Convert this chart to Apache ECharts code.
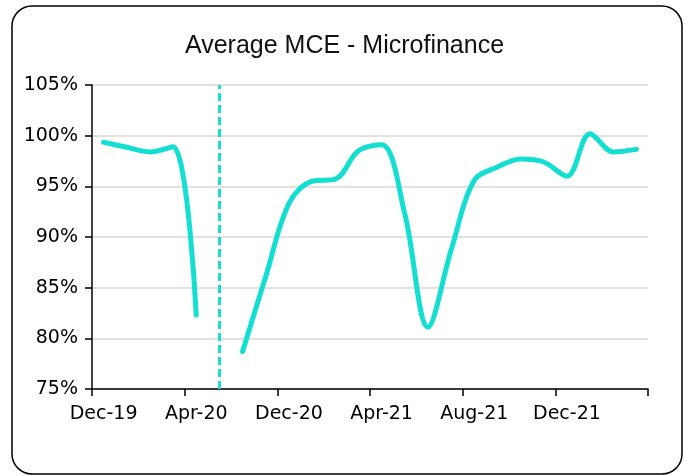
<!DOCTYPE html>
<html>
<head>
<meta charset="utf-8">
<script src="https://cdn.jsdelivr.net/npm/echarts@6/dist/echarts.min.js"></script>
<style>
  html, body { margin: 0; padding: 0; background: #fff; }
  #chart { width: 689px; height: 476px; }
</style>
</head>
<body>
<div id="chart"></div>
<script>
// months shown on the axis (Sep-20 is the break, no value)
let months = ['Dec-19', 'Jan-20', 'Feb-20', 'Mar-20', 'Apr-20', 'Sep-20',
  'Oct-20', 'Nov-20', 'Dec-20', 'Jan-21', 'Feb-21', 'Mar-21', 'Apr-21',
  'May-21', 'Jun-21', 'Jul-21', 'Aug-21', 'Sep-21', 'Oct-21', 'Nov-21',
  'Dec-21', 'Jan-22', 'Feb-22', 'Mar-22'];
// average MCE, in %
let mceValues = [99.35, 98.85, 98.4, 98.9, 82.3, null,
  78.7, 86.1, 93.3, 95.5, 95.7, 98.5, 99.1,
  92.3, 81.1, 88.7, 95.6, 96.9, 97.7, 97.4,
  96.0, 100.2, 98.4, 98.65];
let breakMonth = 'Sep-20';
let yTicks = { min: 75, max: 105, step: 5 };

let chartDom = document.getElementById('chart');
let myChart = echarts.init(chartDom, null, { renderer: 'canvas' });
let option;

let lineColor = '#12DFD2';
let labelFont = 'DejaVu Sans';

option = {
  backgroundColor: '#ffffff',
  animation: false,
  title: {
    text: 'Average MCE - Microfinance',
    left: 'center',
    top: 29,
    textStyle: {
      fontFamily: 'Liberation Sans',
      fontSize: 25,
      fontWeight: 'normal',
      color: '#111'
    }
  },
  graphic: [
    {
      type: 'rect',
      shape: { x: 12, y: 6, width: 670, height: 468, r: 20 },
      style: { fill: 'none', stroke: '#000', lineWidth: 1.5 },
      silent: true
    }
  ],
  grid: {
    left: 92,
    right: 41,
    top: 85,
    bottom: 87
  },
  xAxis: {
    type: 'category',
    data: months,
    boundaryGap: true,
    axisLine: { show: true, lineStyle: { color: '#000', width: 1.5 } },
    axisTick: { show: true, interval: 3, length: 7, lineStyle: { color: '#000', width: 1.5 } },
    axisLabel: {
      interval: 3,
      margin: 16,
      color: '#000',
      fontFamily: labelFont,
      fontSize: 19
    },
    splitLine: { show: false }
  },
  yAxis: {
    type: 'value',
    min: yTicks.min,
    max: yTicks.max,
    interval: yTicks.step,
    axisLine: { show: true, lineStyle: { color: '#000', width: 1.5 } },
    axisTick: { show: true, length: 7, lineStyle: { color: '#000', width: 1.5 } },
    axisLabel: {
      formatter: '{value}%',
      margin: 14,
      color: '#000',
      fontFamily: labelFont,
      fontSize: 19
    },
    splitLine: { lineStyle: { color: '#d9d9d9', width: 1.5 } }
  },
  series: [
    {
      name: 'Average MCE',
      type: 'line',
      data: mceValues,
      smooth: 0.35,
      showSymbol: false,
      connectNulls: false,
      lineStyle: { color: lineColor, width: 5, cap: 'round' },
      markLine: {
        silent: true,
        symbol: 'none',
        label: { show: false },
        lineStyle: { color: lineColor, width: 3, type: [8, 4] },
        data: [{ xAxis: breakMonth }]
      }
    }
  ]
};

option && myChart.setOption(option);
</script>
</body>
</html>
